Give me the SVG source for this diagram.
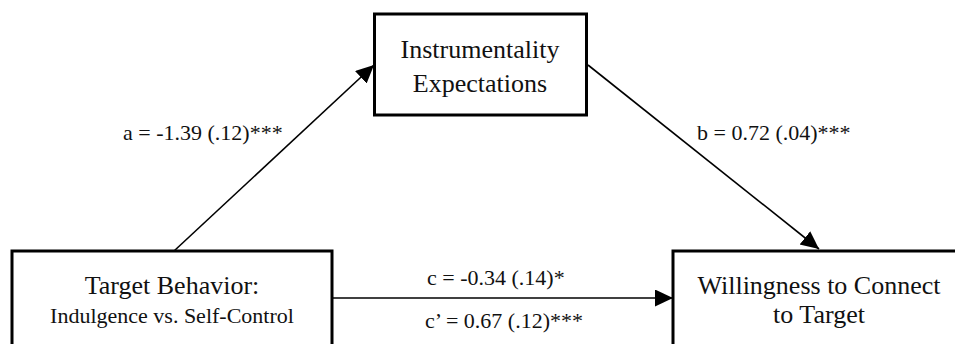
<svg xmlns="http://www.w3.org/2000/svg" width="955" height="344" viewBox="0 0 955 344">
<style>
.box{fill:#fff;stroke:#000;stroke-width:3}
.t{font-family:"Liberation Serif","Times New Roman",serif;fill:#111;text-anchor:middle}
.big{font-size:26px}
.sm{font-size:22px}
.lbl{font-family:"Liberation Serif","Times New Roman",serif;fill:#111;font-size:22px}
.edge{stroke:#000;stroke-width:1.6;fill:none;marker-end:url(#ah)}
</style>
<defs>
<marker id="ah" markerUnits="userSpaceOnUse" markerWidth="20" markerHeight="18" refX="18" refY="8.5" orient="auto">
<path d="M0,0 L18,8.5 L0,17 z" fill="#000"/>
</marker>
</defs>
<rect width="955" height="344" fill="#fff"/>
<g id="connectors">
<line class="edge" x1="174" y1="251" x2="374" y2="65"/>
<line class="edge" x1="588" y1="65" x2="819" y2="249"/>
<line class="edge" x1="332" y1="298" x2="673" y2="298"/>
</g>
<g id="node-instrumentality">
<rect class="box" x="374.5" y="14" width="212" height="101"/>
<text class="t big" x="480" y="58">Instrumentality</text>
<text class="t big" x="480" y="92">Expectations</text>
</g>
<g id="node-target-behavior">
<rect class="box" x="12" y="251" width="320" height="120"/>
<text class="t big" x="172" y="294">Target Behavior:</text>
<text class="t sm" x="172" y="323">Indulgence vs. Self-Control</text>
</g>
<g id="node-willingness">
<rect class="box" x="673" y="251" width="300" height="120"/>
<text class="t big" x="819" y="294">Willingness to Connect</text>
<text class="t big" x="819" y="323">to Target</text>
</g>
<g id="labels">
<text class="lbl" x="123" y="140">a = -1.39 (.12)***</text>
<text class="lbl" x="697" y="140">b = 0.72 (.04)***</text>
<text class="lbl" x="427" y="285">c = -0.34 (.14)*</text>
<text class="lbl" x="425" y="328">c’ = 0.67 (.12)***</text>
</g>
</svg>
